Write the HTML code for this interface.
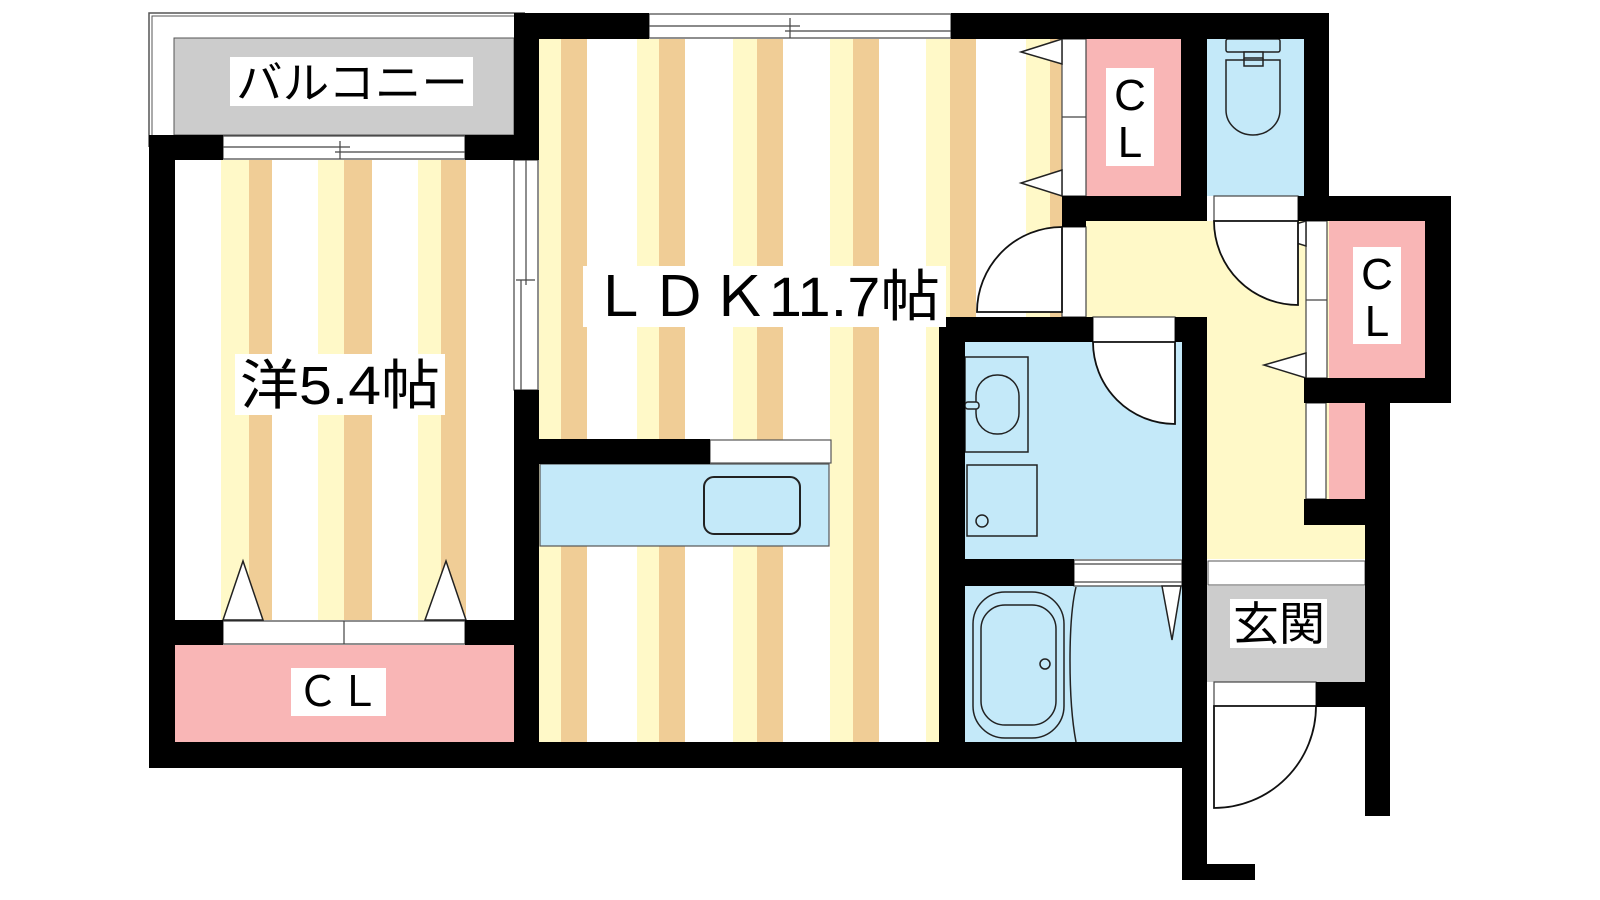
<!DOCTYPE html>
<html><head><meta charset="utf-8"><style>
html,body{margin:0;padding:0;background:#fff;}
svg{display:block;}
.t{font-family:"Liberation Sans","Noto Sans CJK JP",sans-serif;fill:#000;}
</style></head><body>
<svg width="1600" height="900" viewBox="0 0 1600 900" xmlns="http://www.w3.org/2000/svg">
<rect width="1600" height="900" fill="#fff"/>
<!-- balcony frame -->
<path d="M149 147 V13 H525" fill="none" stroke="#555" stroke-width="1.5"/>
<path d="M152 147 V16 H525" fill="none" stroke="#555" stroke-width="1"/>
<rect x="174" y="38" width="340" height="97" fill="#ccc" stroke="#555" stroke-width="1"/>

<!-- hall yellow -->
<rect x="1086" y="221" width="279" height="338" fill="#fff9c8"/>
<!-- bedroom stripes -->
<g>
<rect x="221" y="160" width="28" height="460" fill="#fff9c8"/><rect x="249" y="160" width="23" height="460" fill="#f0cd96"/>
<rect x="318" y="160" width="26" height="460" fill="#fff9c8"/><rect x="344" y="160" width="28" height="460" fill="#f0cd96"/>
<rect x="418" y="160" width="23" height="460" fill="#fff9c8"/><rect x="441" y="160" width="25" height="460" fill="#f0cd96"/>
</g>
<!-- LDK stripes -->
<g>
<rect x="539" y="39" width="22" height="703" fill="#fff9c8"/><rect x="561" y="39" width="26" height="703" fill="#f0cd96"/>
<rect x="637" y="39" width="22" height="703" fill="#fff9c8"/><rect x="659" y="39" width="26" height="703" fill="#f0cd96"/>
<rect x="733" y="39" width="24" height="703" fill="#fff9c8"/><rect x="757" y="39" width="26" height="703" fill="#f0cd96"/>
<rect x="830" y="39" width="23" height="703" fill="#fff9c8"/><rect x="853" y="39" width="26" height="703" fill="#f0cd96"/>
<rect x="926" y="39" width="24" height="703" fill="#fff9c8"/><rect x="950" y="39" width="26" height="278" fill="#f0cd96"/>
<rect x="1026" y="39" width="24" height="278" fill="#fff9c8"/><rect x="1050" y="39" width="12" height="278" fill="#f0cd96"/>
</g>
<!-- pink closets -->
<rect x="175" y="645" width="339" height="97" fill="#f9b6b6"/>
<rect x="1086" y="39" width="95" height="157" fill="#f9b6b6"/>
<rect x="1329" y="221" width="96" height="157" fill="#f9b6b6"/>
<rect x="1329" y="403" width="36" height="96" fill="#f9b6b6"/>
<!-- blue rooms -->
<rect x="1207" y="39" width="97" height="157" fill="#c4e9f9"/>
<rect x="965" y="342" width="217" height="217" fill="#c4e9f9"/>
<rect x="965" y="586" width="217" height="156" fill="#c4e9f9"/>
<!-- genkan -->
<rect x="1207" y="586" width="158" height="96" fill="#ccc"/>
<rect x="1208" y="561" width="157" height="24" fill="#fff" stroke="#555" stroke-width="1"/>

<!-- kitchen -->
<rect x="540" y="464" width="289" height="82" fill="#c4e9f9" stroke="#555" stroke-width="1.2"/>
<rect x="704" y="477" width="96" height="57" rx="10" fill="none" stroke="#222" stroke-width="2"/>
<rect x="710" y="440" width="121" height="23" fill="#fff" stroke="#555" stroke-width="1.2"/>

<!-- door strips & sliding windows -->
<g fill="#fff" stroke="#444" stroke-width="1.2">
<rect x="223" y="136" width="242" height="23"/>
<rect x="649" y="14" width="302" height="24"/>
<rect x="514" y="160" width="24" height="230"/>
<rect x="223" y="621" width="242" height="23"/>
<rect x="1062" y="39" width="24" height="157"/>
<rect x="1062" y="227" width="24" height="90"/>
<rect x="1306" y="221" width="21" height="157"/>
<rect x="1306" y="403" width="20" height="96"/>
<rect x="1214" y="196" width="84" height="25"/>
<rect x="1093" y="317" width="82" height="25"/>
<rect x="1074" y="560" width="108" height="26"/>
<rect x="1214" y="682" width="102" height="24"/>
</g>
<g stroke="#444" stroke-width="1.2" fill="none">
<path d="M223 147 H350 M335 152 H465 M340 141 V159"/>
<path d="M649 26 H800 M785 31 H951 M790 18 V38"/>
<path d="M526 160 V285 M521 280 V390 M516 280 H535"/>
<path d="M344 621 V644"/>
<path d="M1062 117 H1086 M1306 300 H1327"/>
<path d="M1074 564 H1182 M1074 582 H1182"/>
</g>
<!-- folding door triangles -->
<g fill="#fff" stroke="#222" stroke-width="1.5">
<path d="M223 620 L243 561 L263 620 Z"/>
<path d="M425 620 L446 561 L466 620 Z"/>
<path d="M1062 39 L1021 52 L1062 64 Z"/>
<path d="M1062 170 L1021 183 L1062 196 Z"/>
<path d="M1306 221 L1264 233 L1306 246 Z"/>
<path d="M1306 353 L1264 365 L1306 378 Z"/>
<path d="M1162 586 L1172 640 L1181 586 Z"/>
</g>
<!-- swing doors -->
<g fill="#fff" stroke="#111" stroke-width="1.8">
<path d="M1062 227 A85 85 0 0 0 977 312 H1062 Z"/>
<path d="M1214 221 A84 84 0 0 0 1298 305 V221 Z"/>
<path d="M1093 342 A82 82 0 0 0 1175 424 V342 Z"/>
<path d="M1316 706 A102 102 0 0 1 1214 808 V706 Z"/>
</g>
<!-- toilet -->
<g fill="#c4e9f9" stroke="#222" stroke-width="1.5">
<rect x="1226" y="39" width="54" height="13" rx="2"/>
<rect x="1244" y="52" width="19" height="6"/>
<path d="M1226 60 H1280 V110 A27 25 0 0 1 1226 110 Z"/>
<path d="M1244 58 V66 H1263 V58" fill="none"/>
</g>
<!-- washroom -->
<g fill="none" stroke="#222" stroke-width="1.5">
<rect x="965" y="357" width="63" height="95"/>
<rect x="976" y="375" width="43" height="59" rx="21"/>
<rect x="965" y="402" width="14" height="7" rx="3" fill="#c4e9f9"/>
<rect x="967" y="465" width="70" height="71"/>
<circle cx="982" cy="521" r="6"/>
<rect x="973" y="592" width="91" height="146" rx="32"/>
<rect x="981" y="605" width="75" height="120" rx="24"/>
<circle cx="1045" cy="664" r="5"/>
<path d="M1076 587 C1068 620 1068 700 1076 742"/>
</g>

<!-- walls -->
<g fill="#000">
<rect x="149" y="135" width="74" height="25"/>
<rect x="465" y="135" width="73" height="25"/>
<rect x="149" y="135" width="26" height="633"/>
<rect x="514" y="13" width="25" height="147"/>
<rect x="514" y="13" width="135" height="26"/>
<rect x="951" y="13" width="378" height="26"/>
<rect x="514" y="390" width="25" height="378"/>
<rect x="539" y="439" width="171" height="25"/>
<rect x="149" y="620" width="74" height="25"/>
<rect x="465" y="620" width="49" height="25"/>
<rect x="149" y="742" width="1058" height="26"/>
<rect x="1181" y="13" width="26" height="208"/>
<rect x="1304" y="13" width="25" height="208"/>
<rect x="1062" y="196" width="145" height="25"/>
<rect x="1062" y="196" width="24" height="31"/>
<rect x="1298" y="196" width="153" height="25"/>
<rect x="1425" y="196" width="26" height="207"/>
<rect x="1304" y="378" width="147" height="25"/>
<rect x="939" y="317" width="26" height="451"/>
<rect x="939" y="317" width="154" height="25"/>
<rect x="1175" y="317" width="32" height="25"/>
<rect x="1182" y="317" width="25" height="563"/>
<rect x="939" y="559" width="135" height="27"/>
<rect x="1182" y="864" width="73" height="16"/>
<rect x="1365" y="403" width="25" height="413"/>
<rect x="1304" y="499" width="61" height="26"/>
<rect x="1316" y="682" width="49" height="25"/>
</g>

<!-- labels -->
<rect x="230" y="57" width="243" height="49" fill="#fff"/>
<text class="t" x="236" y="98" font-size="44" textLength="232" lengthAdjust="spacingAndGlyphs">バルコニー</text>
<rect x="235" y="354" width="210" height="61" fill="#fff"/>
<text class="t" x="240" y="404" font-size="54" textLength="200" lengthAdjust="spacingAndGlyphs">洋5.4帖</text>
<rect x="583" y="266" width="363" height="61" fill="#fff"/>
<text class="t" x="590" y="316" font-size="56" textLength="350" lengthAdjust="spacingAndGlyphs">ＬＤＫ11.7帖</text>
<rect x="291" y="668" width="95" height="48" fill="#fff"/>
<text class="t" x="297" y="706" font-size="42" textLength="83" lengthAdjust="spacingAndGlyphs">ＣＬ</text>
<rect x="1106" y="68" width="48" height="98" fill="#fff"/>
<text class="t" x="1130" y="110" font-size="44" text-anchor="middle">C</text>
<text class="t" x="1130" y="157" font-size="44" text-anchor="middle">L</text>
<rect x="1353" y="247" width="48" height="97" fill="#fff"/>
<text class="t" x="1377" y="289" font-size="44" text-anchor="middle">C</text>
<text class="t" x="1377" y="336" font-size="44" text-anchor="middle">L</text>
<rect x="1230" y="599" width="97" height="49" fill="#fff"/>
<text class="t" x="1233" y="640" font-size="46" textLength="92" lengthAdjust="spacingAndGlyphs">玄関</text>
</svg>
</body></html>
